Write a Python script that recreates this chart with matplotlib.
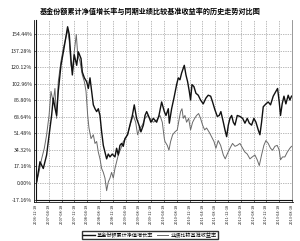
import matplotlib
matplotlib.use("Agg")
import matplotlib.pyplot as plt
from matplotlib.lines import Line2D

plt.rcParams['font.family'] = ['Noto Sans CJK SC', 'DejaVu Sans']

# 横轴位置以刻度间隔为单位 (0 = 第一个日期, 20 = 最后一个日期)
fund_t = [0.05, 0.31, 0.57, 0.83, 0.96, 1.22, 1.35, 1.48, 1.61, 1.74, 1.95, 2.14, 2.32, 2.47,
          2.60, 2.73, 2.84, 2.99, 3.18, 3.31, 3.52, 3.62, 3.78, 3.96, 4.09, 4.22, 4.35, 4.48,
          4.61, 4.74, 4.87, 5.00, 5.13, 5.26, 5.39, 5.52, 5.65, 5.78, 5.96, 6.17, 6.30, 6.43,
          6.56, 6.69, 6.82, 6.95, 7.16, 7.34, 7.53, 7.68, 7.86, 8.05, 8.20, 8.39, 8.52, 8.65,
          8.78, 8.98, 9.17, 9.43, 9.61, 9.82, 10.03, 10.16, 10.34, 10.42, 10.60, 10.78, 10.99,
          11.12, 11.25, 11.38, 11.51, 11.59, 11.72, 11.85, 11.98, 12.08, 12.19, 12.34, 12.50,
          12.68, 12.86, 13.07, 13.28, 13.46, 13.65, 13.80, 13.98, 14.17, 14.32, 14.45, 14.64,
          14.77, 14.90, 15.03, 15.16, 15.29, 15.42, 15.55, 15.73, 15.94, 16.15, 16.33, 16.51,
          16.67, 16.85, 17.03, 17.19, 17.37, 17.50, 17.63, 17.76, 17.97, 18.15, 18.33, 18.54,
          18.75, 18.88, 19.01, 19.11, 19.24, 19.38, 19.53, 19.71, 19.84, 19.97]
fund_ret = [1, 22, 15, 29, 43, 70, 88, 78, 70, 95, 122, 136, 150, 162,
            154, 129, 112, 133, 122, 136, 129, 115, 109, 105, 98, 109, 95, 81,
            77, 74, 77, 70, 53, 39, 32, 25, 30, 27, 30, 27, 36, 29,
            39, 41, 38, 46, 50, 60, 70, 81, 67, 60, 53, 60, 70, 74,
            70, 63, 67, 63, 70, 84, 74, 70, 77, 62, 77, 88, 102,
            109, 107, 114, 119, 122, 112, 105, 95, 86, 102, 100, 93,
            91, 86, 82, 88, 91, 90, 84, 76, 69, 70, 74, 63,
            55, 48, 60, 67, 70, 63, 60, 70, 69, 67, 62, 67,
            62, 60, 67, 63, 55, 50, 63, 79, 82, 84, 81, 90,
            95, 98, 84, 70, 82, 90, 82, 91, 86, 90]

bench_t = [0.05, 0.23, 0.44, 0.65, 0.83, 1.02, 1.17, 1.35, 1.48, 1.61, 1.74, 1.95, 2.14, 2.32,
           2.47, 2.60, 2.73, 2.84, 2.99, 3.15, 3.26, 3.44, 3.62, 3.78, 3.91, 4.04, 4.14, 4.30,
           4.48, 4.61, 4.74, 4.87, 5.00, 5.13, 5.26, 5.39, 5.52, 5.65, 5.78, 5.91, 6.04, 6.17,
           6.30, 6.43, 6.64, 6.82, 7.01, 7.21, 7.42, 7.60, 7.79, 7.94, 8.13, 8.31, 8.52, 8.72,
           8.91, 9.17, 9.43, 9.69, 9.87, 10.03, 10.08, 10.26, 10.39, 10.52, 10.68, 10.86, 11.04,
           11.20, 11.30, 11.41, 11.51, 11.64, 11.77, 11.93, 12.08, 12.24, 12.40, 12.55, 12.71,
           12.86, 13.02, 13.18, 13.33, 13.52, 13.72, 13.91, 14.06, 14.24, 14.43, 14.64, 14.79,
           14.95, 15.16, 15.36, 15.55, 15.73, 15.94, 16.15, 16.33, 16.51, 16.72, 16.90, 17.11,
           17.29, 17.45, 17.63, 17.81, 17.97, 18.15, 18.33, 18.49, 18.67, 18.85, 19.01, 19.11,
           19.27, 19.45, 19.64, 19.84, 19.97]
bench_ret = [1, 11, 25, 36, 50, 70, 95, 84, 98, 67, 105, 126, 140, 150,
             159, 147, 122, 116, 136, 154, 133, 126, 112, 105, 95, 70, 57, 46,
             50, 41, 43, 32, 25, 15, 11, 5, -8, 1, 5, 11, 5, 15,
             22, 29, 36, 43, 46, 53, 63, 70, 63, 50, 57, 60, 67, 70,
             67, 63, 65, 70, 63, 46, 43, 39, 34, 43, 50, 53, 55,
             67, 74, 77, 67, 70, 63, 67, 55, 63, 67, 70, 72,
             67, 60, 55, 57, 53, 48, 43, 36, 44, 39, 29, 25,
             30, 36, 41, 38, 39, 41, 36, 32, 30, 25, 27, 29,
             24, 18, 29, 39, 44, 41, 36, 34, 38, 39, 34, 24,
             27, 27, 32, 36, 38]

date_labels = ['2006-12-18', '2007-04-18', '2007-08-18', '2007-12-18', '2008-04-18',
               '2008-08-18', '2008-12-18', '2009-04-18', '2009-08-18', '2009-12-18',
               '2010-04-18', '2010-08-18', '2010-12-18', '2011-04-18', '2011-08-18',
               '2011-12-18', '2012-04-18', '2012-08-18', '2012-12-18', '2013-04-18',
               '2013-08-18']
y_ticks = [-17.16, 0.00, 17.16, 34.32, 51.48, 68.64, 85.80, 102.96, 120.12, 137.28, 154.44]

fig = plt.figure(figsize=(3.0, 2.41), dpi=100)
ax = fig.add_axes([0.12, 0.17, 0.853, 0.747])

ax.plot(bench_t, bench_ret, color='#6a6a6a', lw=0.7, label='业绩比较基准收益率')
ax.plot(fund_t, fund_ret, color='#111111', lw=1.0, label='基金份额累计净值增长率')

ax.set_xlim(0, 20)
ax.set_ylim(-17.7, 169)
ax.set_xticks(range(len(date_labels)))
ax.set_xticklabels(date_labels, rotation=90, fontsize=2.8)
ax.set_yticks(y_ticks)
ax.set_yticklabels(['%.2f%%' % v for v in y_ticks], fontsize=3.8)
ax.tick_params(axis='both', length=1.5, width=0.5, pad=1.2, colors='#222222')

ax.grid(True, color='#777777', lw=0.5, linestyle=(0, (1, 1.5)))
ax.spines['top'].set_visible(False)
ax.spines['right'].set_color('#888888')
ax.spines['right'].set_linewidth(0.6)
for s in ('left', 'bottom'):
    ax.spines[s].set_linewidth(0.8)
    ax.spines[s].set_color('#111111')

# 外框的第二条线
fig.add_artist(Line2D([0.113, 0.113], [0.163, 0.917], transform=fig.transFigure, color='#111111', lw=0.6))
fig.add_artist(Line2D([0.113, 0.975], [0.163, 0.163], transform=fig.transFigure, color='#111111', lw=0.6))

fig.text(0.5, 0.955, '基金份额累计净值增长率与同期业绩比较基准收益率的历史走势对比图',
         ha='center', va='center', fontsize=5.1, fontweight='bold')

h, l = ax.get_legend_handles_labels()
fig.legend(h[::-1], l[::-1], loc='center', bbox_to_anchor=(0.5, 0.025), ncol=2, fontsize=3.7,
           frameon=True, fancybox=False, edgecolor='#333333', handlelength=2.2,
           handletextpad=0.4, columnspacing=0.8, borderpad=0.25, framealpha=1)

fig.savefig('out.png', dpi=100)
